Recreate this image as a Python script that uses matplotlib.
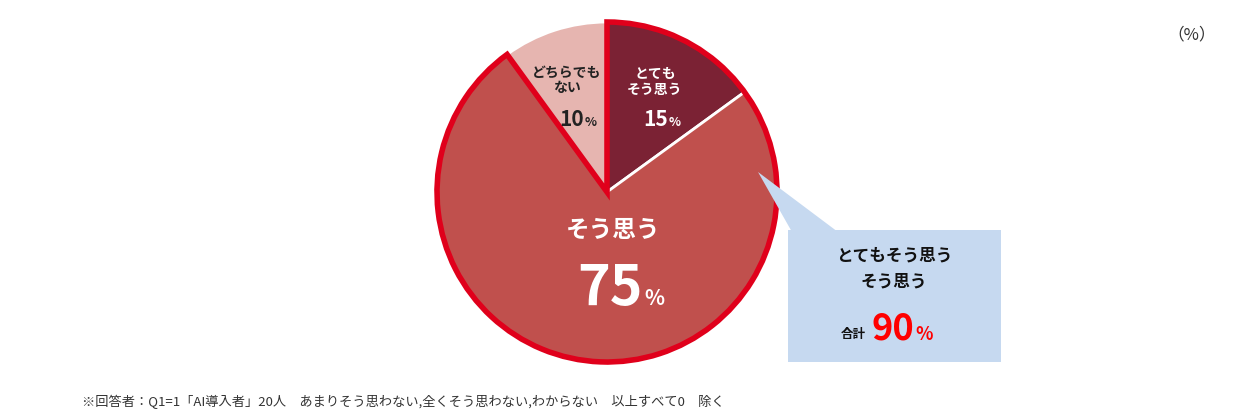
import matplotlib
matplotlib.use("Agg")
import matplotlib.pyplot as plt
from matplotlib.patches import Wedge, Rectangle, Polygon

plt.rcParams['font.family'] = ['Noto Sans CJK JP', 'DejaVu Sans']

labels = ["とても\nそう思う", "そう思う", "どちらでも\nない"]
values = [15, 75, 10]
colors = ["#7B2234", "#C0504D", "#E6B5B0"]
total_label = "合計"
total_value = 90

W, H = 1249, 418
fig = plt.figure(figsize=(W/100, H/100), dpi=100)
ax = fig.add_axes([0, 0, 1, 1])
ax.set_xlim(0, W); ax.set_ylim(0, H); ax.axis('off')
def Y(py): return H - py

cx, cy, r = 607, Y(192), 170
ax.pie(values, colors=colors, startangle=90, counterclock=False, center=(cx, cy), radius=r,
       wedgeprops=dict(edgecolor='white', linewidth=2), frame=True)
ax.set_xlim(0, W); ax.set_ylim(0, H); ax.set_aspect('equal'); ax.axis('off')
grp = values[0] + values[1]
ax.add_patch(Wedge((cx, cy), r, 90 + 360 * values[2] / 100, 450, fill=False,
                   edgecolor='#E0001B', linewidth=4, joinstyle='miter'))

def pct(x, py, num, size, color, psize, bold=True):
    t = ax.text(x, Y(py), str(num), fontsize=size, color=color, ha='right', va='baseline',
                fontweight='bold' if bold else 'normal')
    ax.text(x + 1, Y(py), "%", fontsize=psize, color=color, ha='left', va='baseline', fontweight='bold')

ax.text(655, Y(82), labels[0], fontsize=10, color='white', ha='center', va='center', fontweight='bold', linespacing=1.1)
pct(668, 126, values[0], 15, 'white', 9)
ax.text(567, Y(80), labels[2], fontsize=10, color='#222222', ha='center', va='center', fontweight='bold', linespacing=1.1)
pct(584, 126, values[2], 15, '#222222', 9)
ax.text(613, Y(230), labels[1], fontsize=17, color='white', ha='center', va='center', fontweight='bold')
pct(643, 305, values[1], 40, 'white', 15)

ax.add_patch(Polygon([(758, Y(172)), (792, Y(232)), (838, Y(232))], closed=True, color='#C6D9F0', lw=0))
ax.add_patch(Rectangle((788, Y(362)), 213, 132, color='#C6D9F0', lw=0))
ax.text(894, Y(256), "とてもそう思う", fontsize=12, ha='center', va='center', fontweight='bold', color='#111111')
ax.text(894, Y(282), "そう思う", fontsize=12, ha='center', va='center', fontweight='bold', color='#111111')
ax.text(866, Y(338), total_label, fontsize=9, ha='right', va='baseline', fontweight='bold', color='#111111')
pct(914, 340, total_value, 26, '#FF0000', 13)

ax.text(1192, Y(35), "（%）", fontsize=12, ha='center', va='center', color='#333333')
ax.text(82, Y(402), "※回答者：Q1=1「AI導入者」20人　あまりそう思わない,全くそう思わない,わからない　以上すべて0　除く",
        fontsize=9.5, ha='left', va='center', color='#333333')
fig.savefig("out.png", dpi=100)
